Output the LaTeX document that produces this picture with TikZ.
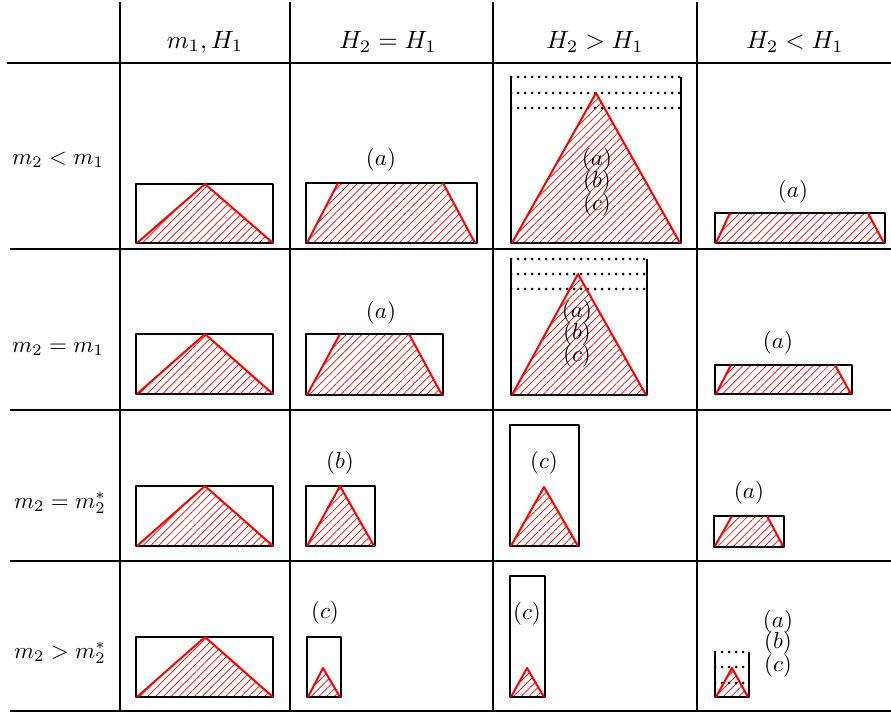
\documentclass[tikz,border=0pt]{standalone}
\usetikzlibrary{patterns.meta}
\tikzset{
  grid/.style={line width=2pt},
  box/.style={draw=black,line width=2pt,line join=round},
  hatch/.style={pattern={Lines[angle=45,distance=5.5pt,line width=0.7pt]},pattern color=red},
  redside/.style={draw=red,line width=2pt,line join=round},
  dotline/.style={line width=3pt,dash pattern=on 0pt off 7pt,line cap=round},
  lab/.style={scale=2.3,inner sep=0pt},
  hlab/.style={scale=2.5,inner sep=0pt},
}
\begin{document}
\begin{tikzpicture}[x=1pt,y=-1pt]
\useasboundingbox (0,0) rectangle (891,712);
% grid
\draw[grid] (120,2) -- (120,712);
\draw[grid] (290,2) -- (290,712);
\draw[grid] (493,2) -- (493,712);
\draw[grid] (697,2) -- (697,712);
\draw[line width=2.8pt] (7,63) -- (891,63);
\draw[grid] (10,249) -- (891,249);
\draw[grid] (10,410) -- (891,410);
\draw[grid] (10,561) -- (891,561);
\draw[grid] (10,711) -- (891,711);
% headers
\node[hlab] (h1) at (205,42) {$m_1, H_1$};
\node[hlab] (h2) at (388,42) {$H_2 = H_1$};
\node[hlab] (h3) at (595,42) {$H_2 > H_1$};
\node[hlab] (h4) at (795,42) {$H_2 < H_1$};
\node[lab] (r1) at (58,160) {$m_2 < m_1$};
\node[lab] (r2) at (58,349) {$m_2 = m_1$};
\node[lab] (r3) at (60,503) {$m_2 = m_2^*$};
\node[lab] (r4) at (60,653) {$m_2 > m_2^*$};
% column 1
\foreach \t/\b in {184/243,334/394,486/546,637/697}{
  \fill[hatch] (137,\b) -- (205,\t) -- (273,\b) -- cycle;
  \draw[box] (136,\t) rectangle (273,\b);
  \draw[redside] (137,\b) -- (205,\t) -- (273,\b);
}
% column 2 row 1
\fill[hatch] (307,243) -- (338,183) -- (443,183) -- (475,243) -- cycle;
\draw[box] (306,183) rectangle (477,243);
\draw[redside] (307,243) -- (338,183) (443,183) -- (475,243);
\node[lab] (a21) at (381,160) {$(a)$};
% column 2 row 2
\fill[hatch] (307,395) -- (340,334) -- (409,334) -- (442,395) -- cycle;
\draw[box] (306,334) rectangle (443,395);
\draw[redside] (307,395) -- (340,334) (409,334) -- (442,395);
\node[lab] (a22) at (381,313) {$(a)$};
% column 2 row 3
\fill[hatch] (307,546) -- (340,486) -- (374,546) -- cycle;
\draw[box] (306,486) rectangle (375,546);
\draw[redside] (307,546) -- (340,486) -- (374,546);
\node[lab] (b23) at (340,463) {$(b)$};
% column 2 row 4
\fill[hatch] (308,697) -- (323,668) -- (340,697) -- cycle;
\draw[box] (307,637) rectangle (341,697);
\draw[redside] (308,697) -- (323,668) -- (340,697);
\node[lab] (c24) at (325,613) {$(c)$};
% column 3 row 1
\fill[hatch] (512,243) -- (596,93) -- (680,243) -- cycle;
\draw[box] (511,77) -- (511,243) -- (681,243) -- (681,77);
\foreach \y in {77,93,108} \draw[dotline] (511,\y) -- (681,\y);
\draw[redside] (512,243) -- (596,93) -- (680,243);
\node[lab] (a31) at (597,160) {$(a)$};
\node[lab] (b31) at (597,182) {$(b)$};
\node[lab] (c31) at (597,205) {$(c)$};
% column 3 row 2
\fill[hatch] (512,395) -- (578,274) -- (646,395) -- cycle;
\draw[box] (511,259) -- (511,395) -- (647,395) -- (647,259);
\foreach \y in {259,274,289} \draw[dotline] (511,\y) -- (647,\y);
\draw[redside] (512,395) -- (578,274) -- (646,395);
\node[lab] (a32) at (577,312) {$(a)$};
\node[lab] (b32) at (577,334) {$(b)$};
\node[lab] (c32) at (577,356) {$(c)$};
% column 3 row 3
\fill[hatch] (511,546) -- (544,487) -- (578,546) -- cycle;
\draw[box] (510,425) rectangle (579,546);
\draw[redside] (511,546) -- (544,487) -- (578,546);
\node[lab] (c33) at (544,463) {$(c)$};
% column 3 row 4
\fill[hatch] (511,697) -- (527,668) -- (544,697) -- cycle;
\draw[box] (510,576) rectangle (545,697);
\draw[redside] (511,697) -- (527,668) -- (544,697);
\node[lab] (c34) at (527,614) {$(c)$};
% column 4 row 1
\fill[hatch] (716,243) -- (730,213) -- (868,213) -- (884,243) -- cycle;
\draw[box] (715,213) rectangle (885,243);
\draw[redside] (716,243) -- (730,213) (868,213) -- (884,243);
\node[lab] (a41) at (793,192) {$(a)$};
% column 4 row 2
\fill[hatch] (716,394) -- (731,365) -- (835,365) -- (851,394) -- cycle;
\draw[box] (715,365) rectangle (852,394);
\draw[redside] (716,394) -- (731,365) (835,365) -- (851,394);
\node[lab] (a42) at (778,343) {$(a)$};
% column 4 row 3
\fill[hatch] (715,546) -- (732,516) -- (767,516) -- (783,546) -- cycle;
\draw[box] (714,516) rectangle (784,547);
\draw[redside] (715,546) -- (732,516) (767,516) -- (783,546);
\node[lab] (a43) at (749,493) {$(a)$};
% column 4 row 4
\fill[hatch] (716,697) -- (732,668) -- (748,697) -- cycle;
\draw[box] (715,652) -- (715,697) -- (749,697) -- (749,652);
\foreach \y in {652,667,683} \draw[dotline] (715,\y) -- (749,\y);
\draw[redside] (716,697) -- (732,668) -- (748,697);
\node[lab] (a44) at (778,622) {$(a)$};
\node[lab] (b44) at (778,643) {$(b)$};
\node[lab] (c44) at (778,666) {$(c)$};
\end{tikzpicture}
\end{document}
